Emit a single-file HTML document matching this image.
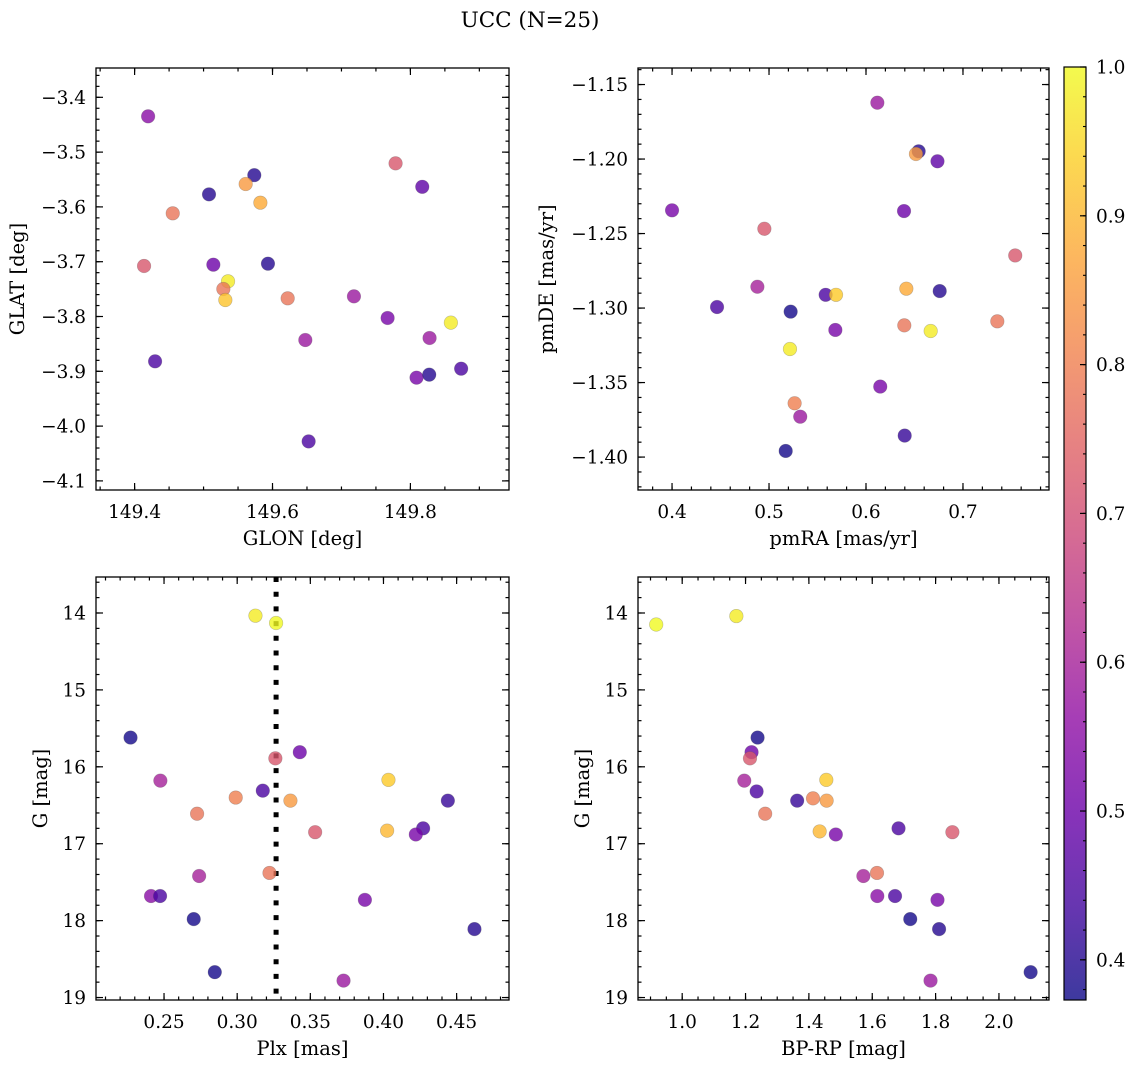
<!DOCTYPE html>
<html><head><meta charset="utf-8"><style>
html,body{margin:0;padding:0;background:#fff;}
svg{display:block;font-family:"DejaVu Serif","Liberation Serif",serif;}
</style></head><body>
<svg id="fig" width="1136" height="1067" viewBox="0 0 1136 1067" xmlns="http://www.w3.org/2000/svg">
<defs>
<linearGradient id="plasma" x1="0" y1="1" x2="0" y2="0">
<stop offset="0" stop-color="#0d0887"/><stop offset="0.1" stop-color="#41049d"/><stop offset="0.2" stop-color="#6a00a8"/><stop offset="0.3" stop-color="#8f0da4"/><stop offset="0.4" stop-color="#b12a90"/><stop offset="0.5" stop-color="#cc4778"/><stop offset="0.6" stop-color="#e16462"/><stop offset="0.7" stop-color="#f2844b"/><stop offset="0.8" stop-color="#fca636"/><stop offset="0.9" stop-color="#fcce25"/><stop offset="1" stop-color="#f0f921"/>
</linearGradient>
</defs>
<text x="530" y="27" text-anchor="middle" font-size="21.5">UCC (N=25)</text>
</svg>
<script>
// Panel 1: GLON vs GLAT
const glon1 = [149.4196,149.7785,149.5736,149.8172,149.5611,149.5079,149.5824,149.4553,149.4137,149.5142,149.5934,149.5355,149.5287,149.5316,149.6220,149.7181,149.7669,149.8587,149.6476,149.8278,149.4297,149.8089,149.8273,149.8736,149.6524];
const glat1 = [-3.4347,-3.5205,-3.5420,-3.5633,-3.5582,-3.5771,-3.5923,-3.6117,-3.7078,-3.7054,-3.7036,-3.7358,-3.7498,-3.7699,-3.7668,-3.7632,-3.8027,-3.8112,-3.8429,-3.8392,-3.8818,-3.9116,-3.9061,-3.8952,-4.0279];
const prob1 = [0.55,0.72,0.40,0.48,0.85,0.40,0.88,0.78,0.72,0.50,0.40,0.98,0.78,0.92,0.78,0.58,0.52,0.98,0.58,0.58,0.45,0.52,0.40,0.45,0.45];
// Panel 2: pmRA vs pmDE
const pmra2 = [0.6117,0.6543,0.6515,0.6737,0.4000,0.6392,0.4952,0.7539,0.4880,0.5584,0.5691,0.6416,0.6760,0.4464,0.5223,0.6395,0.7354,0.5684,0.6667,0.5216,0.6147,0.5264,0.5322,0.6399,0.5172];
const pmde2 = [-1.1622,-1.1948,-1.1966,-1.2015,-1.2344,-1.2349,-1.2468,-1.2647,-1.2857,-1.2911,-1.2911,-1.2870,-1.2886,-1.2993,-1.3024,-1.3116,-1.3089,-1.3147,-1.3154,-1.3275,-1.3527,-1.3639,-1.3729,-1.3856,-1.3959];
const prob2 = [0.58,0.40,0.85,0.48,0.52,0.50,0.72,0.72,0.60,0.45,0.93,0.88,0.40,0.45,0.38,0.78,0.78,0.52,0.98,0.98,0.52,0.80,0.58,0.42,0.38];
// Panel 3: Plx vs G
const plx3 = [0.3125,0.3266,0.2271,0.3428,0.3261,0.2475,0.4034,0.4440,0.3175,0.2990,0.3364,0.2726,0.3533,0.4025,0.4271,0.4221,0.3221,0.2740,0.2411,0.2473,0.3873,0.2703,0.4622,0.2847,0.3727];
const gmag3 = [14.035,14.13,15.62,15.81,15.89,16.18,16.17,16.44,16.31,16.40,16.44,16.61,16.85,16.83,16.80,16.88,17.38,17.42,17.68,17.68,17.73,17.98,18.11,18.67,18.78];
const prob3 = [0.98,1.0,0.38,0.50,0.72,0.60,0.93,0.42,0.45,0.80,0.85,0.78,0.72,0.90,0.45,0.52,0.78,0.60,0.55,0.45,0.52,0.38,0.40,0.38,0.58];
const plxLine = 0.3266;
// Panel 4: BP-RP vs G
const bprp4 = [0.918,1.171,1.238,1.219,1.214,1.196,1.235,1.455,1.363,1.413,1.456,1.262,1.434,1.485,1.683,1.853,1.572,1.615,1.616,1.672,1.806,1.720,1.811,2.100,1.784];
const gmag4 = [14.15,14.04,15.62,15.81,15.89,16.18,16.32,16.17,16.44,16.41,16.44,16.61,16.84,16.88,16.80,16.85,17.42,17.38,17.68,17.68,17.73,17.98,18.11,18.67,18.78];
const prob4 = [1.0,0.98,0.38,0.50,0.72,0.60,0.45,0.93,0.42,0.80,0.85,0.78,0.90,0.52,0.45,0.72,0.60,0.78,0.55,0.45,0.52,0.38,0.40,0.38,0.58];
// Colorbar
const cbTicks = [0.4,0.5,0.6,0.7,0.8,0.9,1.0];
const cbMin = 0.373, cbMax = 1.0;

const NS = "http://www.w3.org/2000/svg";
const svg = document.getElementById('fig');
const TFS = 18.5, LFS = 19.5;
function mk(tag, attrs, parent){const e=document.createElementNS(NS,tag);for(const k in attrs)e.setAttribute(k,attrs[k]);(parent||svg).appendChild(e);return e;}
const stops=[[13,8,135],[65,4,157],[106,0,168],[143,13,164],[177,42,144],[204,71,120],[225,100,98],[242,132,75],[252,166,54],[252,206,37],[240,249,33]];
function plasma(v){let t=(v-cbMin)/(cbMax-cbMin);t=Math.max(0,Math.min(1,t));const f=t*10,i=Math.min(9,Math.floor(f)),r=f-i;const a=stops[i],b=stops[i+1];return 'rgb('+a.map((c,j)=>Math.round(c+(b[j]-c)*r)).join(',')+')';}
function fmt(v,d){const s=Math.abs(v).toFixed(d);return (v<-1e-9?'\u2212':'')+s;}

function panel(p){
  const g=mk('g',{});
  
  
  const sx=v=>p.L+(v-p.xd[0])/(p.xd[1]-p.xd[0])*(p.R-p.L);
  const sy=v=>p.inv? p.T+(v-p.yd[0])/(p.yd[1]-p.yd[0])*(p.B-p.T) : p.B-(v-p.yd[0])/(p.yd[1]-p.yd[0])*(p.B-p.T);
  function ticks(dom,step){const out=[];const s=Math.ceil(dom[0]/step-1e-6);const e=Math.floor(dom[1]/step+1e-6);for(let i=s;i<=e;i++)out.push(+(i*step).toFixed(6));return out;}
  const tg=mk('g',{stroke:'#000','stroke-width':1.2},g);
  ticks(p.xd,p.xminor).forEach(v=>{const x=sx(v);mk('line',{x1:x,x2:x,y1:p.B,y2:p.B-3.5},tg);mk('line',{x1:x,x2:x,y1:p.T,y2:p.T+3.5},tg);});
  ticks(p.yd,p.yminor).forEach(v=>{const y=sy(v);mk('line',{x1:p.L,x2:p.L+3.5,y1:y,y2:y},tg);mk('line',{x1:p.R,x2:p.R-3.5,y1:y,y2:y},tg);});
  ticks(p.xd,p.xmajor).forEach(v=>{const x=sx(v);mk('line',{x1:x,x2:x,y1:p.B,y2:p.B-7},tg);mk('line',{x1:x,x2:x,y1:p.T,y2:p.T+7},tg);
    const t=mk('text',{x:x,y:p.B+28,'text-anchor':'middle','font-size':TFS},g);t.textContent=fmt(v,p.xdec);
    
    });
  ticks(p.yd,p.ymajor).forEach(v=>{const y=sy(v);mk('line',{x1:p.L,x2:p.L+7,y1:y,y2:y},tg);mk('line',{x1:p.R,x2:p.R-7,y1:y,y2:y},tg);
    const t=mk('text',{x:p.L-10,y:y+6.5,'text-anchor':'end','font-size':TFS},g);t.textContent=fmt(v,p.ydec);
    
    });
  if(p.vline!==undefined){const x=sx(p.vline);const l=mk('line',{x1:x,x2:x,y1:p.T,y2:p.B,stroke:'#000','stroke-width':5,'stroke-dasharray':'5 9.7'},g);
    
    }
  p.xs.forEach((xv,i)=>{const c=mk('circle',{cx:sx(xv),cy:sy(p.ys[i]),r:6.8,fill:plasma(p.cs[i]),'fill-opacity':0.8,stroke:'#555','stroke-opacity':0.35,'stroke-width':0.6},g);
    
    });
  const fr=mk('rect',{x:p.L,y:p.T,width:p.R-p.L,height:p.B-p.T,fill:'none',stroke:'#000','stroke-width':1.3},g);
  
  
  const xl=mk('text',{x:(p.L+p.R)/2,y:p.B+55,'text-anchor':'middle','font-size':LFS},g);xl.textContent=p.xlabel;
  
  
  const yl=mk('text',{x:p.ylx,y:(p.T+p.B)/2,'text-anchor':'middle','font-size':LFS,transform:'rotate(-90 '+p.ylx+' '+(p.T+p.B)/2+')'},g);yl.textContent=p.ylabel;
  
  
}
panel({name:'glon-glat-panel',L:96,R:509,T:68,B:490,xd:[149.344,149.943],yd:[-4.1166,-3.3465],xmajor:0.2,xminor:0.05,ymajor:0.1,yminor:0.02,xdec:1,ydec:1,xs:glon1,ys:glat1,cs:prob1,xlabel:'GLON [deg]',ylabel:'GLAT [deg]',ylx:24});
panel({name:'proper-motion-panel',L:638,R:1049,T:68,B:490,xd:[0.3649,0.7887],yd:[-1.4221,-1.1389],xmajor:0.1,xminor:0.02,ymajor:0.05,yminor:0.01,xdec:1,ydec:2,xs:pmra2,ys:pmde2,cs:prob2,xlabel:'pmRA [mas/yr]',ylabel:'pmDE [mas/yr]',ylx:553});
panel({name:'plx-g-panel',L:96,R:509,T:577,B:1000,inv:true,xd:[0.2035,0.4858],yd:[13.532,19.032],xmajor:0.05,xminor:0.01,ymajor:1,yminor:0.2,xdec:2,ydec:0,xs:plx3,ys:gmag3,cs:prob3,vline:plxLine,xlabel:'Plx [mas]',ylabel:'G [mag]',ylx:47});
panel({name:'cmd-panel',L:638,R:1049,T:577,B:1000,inv:true,xd:[0.8605,2.158],yd:[13.532,19.032],xmajor:0.2,xminor:0.05,ymajor:1,yminor:0.2,xdec:1,ydec:0,xs:bprp4,ys:gmag4,cs:prob4,xlabel:'BP-RP [mag]',ylabel:'G [mag]',ylx:589});

// colorbar
const cb=mk('g',{});


const CL=1064,CR=1086,CT=67,CB=1000;
const cyf=v=>CB-(v-cbMin)/(cbMax-cbMin)*(CB-CT);
mk('rect',{x:CL,y:CT,width:CR-CL,height:CB-CT,fill:'url(#plasma)','fill-opacity':0.8},cb);
for(let k=Math.ceil(cbMin/0.02);k<=Math.floor(cbMax/0.02+1e-6);k++){const y=cyf(k*0.02);mk('line',{x1:CR,x2:CR-3,y1:y,y2:y,stroke:'#000','stroke-width':1.1},cb);}
cbTicks.forEach(v=>{const y=cyf(v);mk('line',{x1:CR,x2:CR-6,y1:y,y2:y,stroke:'#000','stroke-width':1.2},cb);
  const t=mk('text',{x:1096,y:y+6.5,'font-size':TFS},cb);t.textContent=v.toFixed(1);
  
  });
mk('rect',{x:CL,y:CT,width:CR-CL,height:CB-CT,fill:'none',stroke:'#000','stroke-width':1.2},cb);
</script>
</body></html>
